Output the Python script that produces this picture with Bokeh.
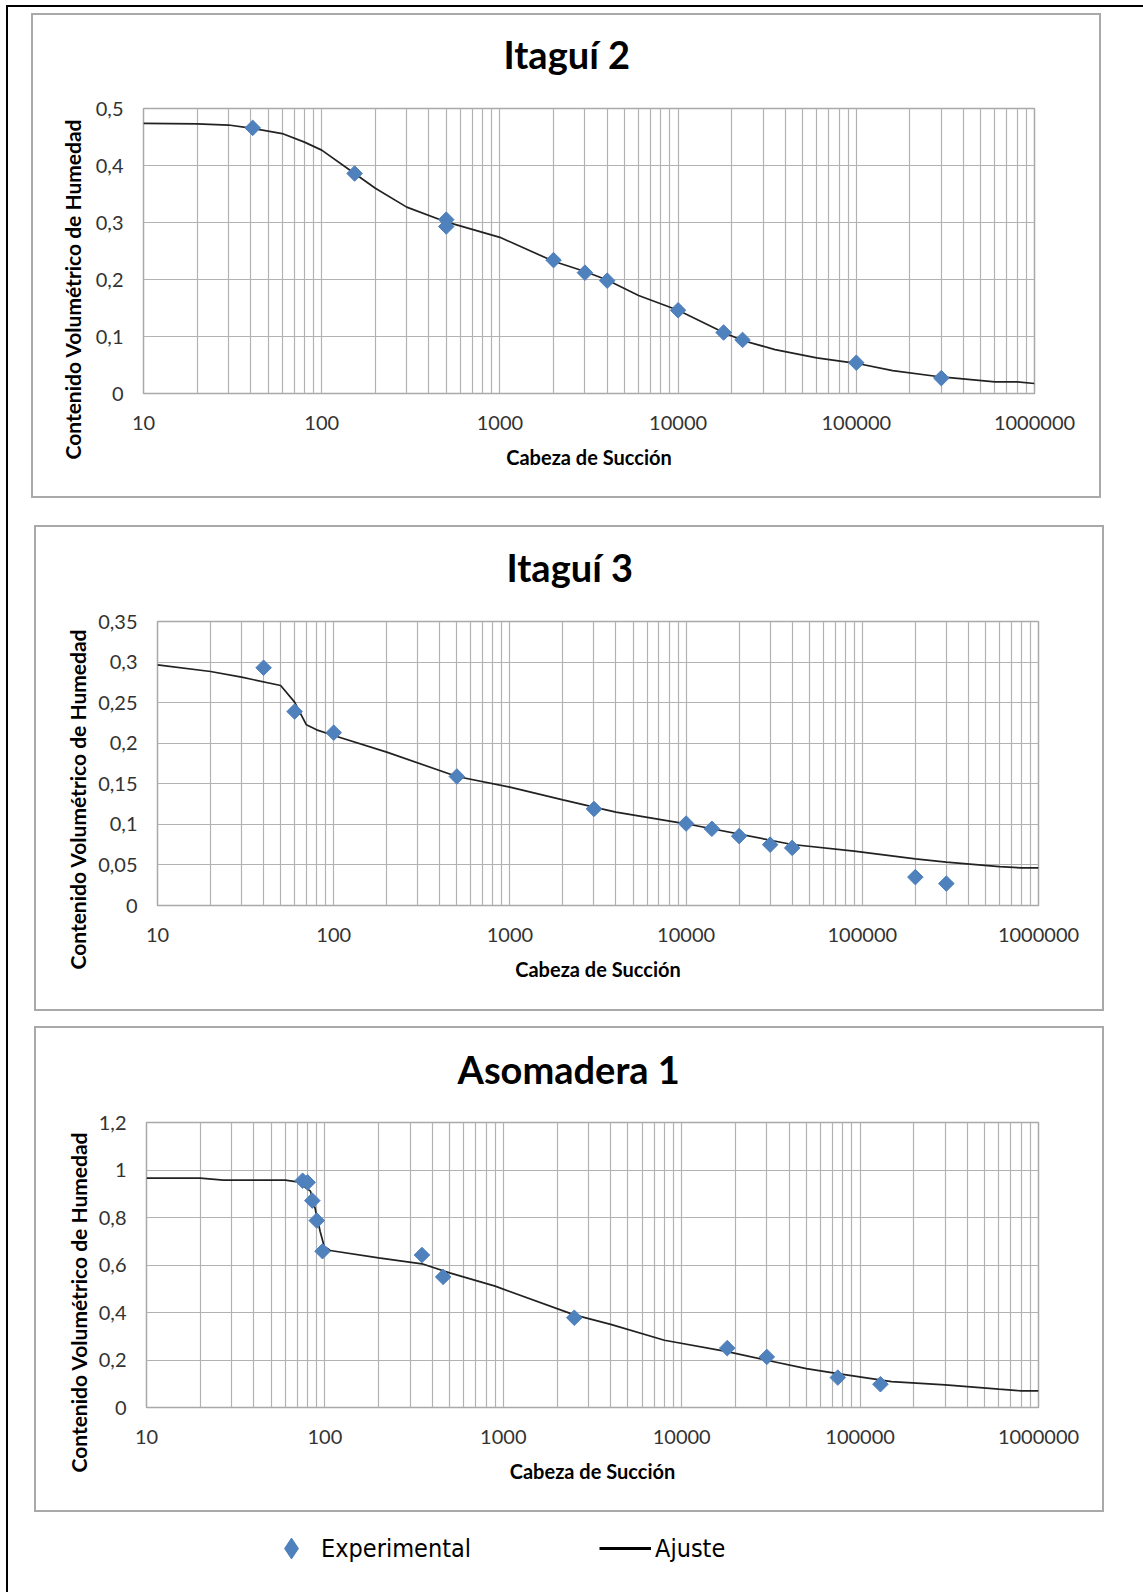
import numpy as np
from bokeh.plotting import figure
from bokeh.models import FixedTicker, Legend, LegendItem, Range1d, Spacer, Title
from bokeh.layouts import column, row
from bokeh.embed import file_html
from bokeh.resources import INLINE

# ---------------- data ----------------
titles = ["Itaguí 2", "Itaguí 3", "Asomadera 1"]
x_title = "Cabeza de Succión"
y_title = "Contenido Volumétrico de Humedad"

x_ticks = [10, 100, 1000, 10000, 100000, 1000000]
x_tick_labels = ["10", "100", "1000", "10000", "100000", "1000000"]

# Itaguí 2
x1_exp = [41, 153, 500, 500, 2000, 3000, 4000, 10000, 18000, 23000, 100000, 300000]
y1_exp = [0.466, 0.386, 0.305, 0.293, 0.234, 0.212, 0.198, 0.146, 0.107, 0.094, 0.054, 0.027]
x1_fit = [10, 20, 30, 41, 60, 80, 100, 153, 200, 300, 500, 1000, 2000, 3000, 4000,
          6000, 10000, 18000, 23000, 35000, 60000, 100000, 160000, 300000, 600000,
          800000, 1000000]
y1_fit = [0.474, 0.473, 0.471, 0.465, 0.456, 0.441, 0.427, 0.386, 0.360, 0.327, 0.301,
          0.274, 0.232, 0.214, 0.199, 0.172, 0.146, 0.107, 0.093, 0.077, 0.0625, 0.053,
          0.040, 0.029, 0.0204, 0.0204, 0.0175]
y1_ticks = [0, 0.1, 0.2, 0.3, 0.4, 0.5]
y1_tick_labels = ["0", "0,1", "0,2", "0,3", "0,4", "0,5"]

# Itaguí 3
x2_exp = [40, 60, 100, 500, 3000, 10000, 14000, 20000, 30000, 40000, 200000, 300000]
y2_exp = [0.293, 0.239, 0.213, 0.159, 0.119, 0.101, 0.0945, 0.0855, 0.075, 0.071, 0.035, 0.027]
x2_fit = [10, 20, 30, 50, 60, 70, 80, 100, 200, 500, 1000, 2000, 3000, 4000, 10000,
          40000, 90000, 200000, 300000, 600000, 800000, 1000000]
y2_fit = [0.2966, 0.2884, 0.2814, 0.2711, 0.2506, 0.2227, 0.2165, 0.2095, 0.189, 0.159,
          0.1458, 0.1302, 0.1212, 0.115, 0.1007, 0.0752, 0.067, 0.0575, 0.0534, 0.048,
          0.0464, 0.0464]
y2_ticks = [0, 0.05, 0.1, 0.15, 0.2, 0.25, 0.3, 0.35]
y2_tick_labels = ["0", "0,05", "0,1", "0,15", "0,2", "0,25", "0,3", "0,35"]

# Asomadera 1
x3_exp = [75, 80, 85, 90, 97, 350, 460, 2500, 18000, 30000, 75000, 130000]
y3_exp = [0.955, 0.948, 0.871, 0.787, 0.658, 0.642, 0.550, 0.378, 0.250, 0.213, 0.126, 0.098]
x3_fit = [10, 20, 27, 60, 70, 83, 88, 94, 99, 107, 200, 350, 500, 900, 2500, 4000, 8000,
          18000, 30000, 50000, 75000, 150000, 300000, 600000, 800000, 1000000]
y3_fit = [0.966, 0.966, 0.957, 0.957, 0.950, 0.911, 0.840, 0.742, 0.679, 0.661, 0.630,
          0.605, 0.567, 0.511, 0.390, 0.350, 0.283, 0.235, 0.199, 0.164, 0.143, 0.109,
          0.0954, 0.077, 0.070, 0.070]
y3_ticks = [0, 0.2, 0.4, 0.6, 0.8, 1.0, 1.2]
y3_tick_labels = ["0", "0,2", "0,4", "0,6", "0,8", "1", "1,2"]

legend_labels = ["Experimental", "Ajuste"]

# ---------------- styles ----------------
BLUE = "#4F81BD"
GRID = "#b2b2b2"
BOX = "#a9a9a9"
FONT = "Lato"
INNER_W = 1066

minor_ticks = [m * 10 ** d for d in range(1, 6) for m in range(2, 10)]


def gray(w, h):
    return Spacer(width=w, height=h, styles={"background-color": BOX})


def make_box(title, xe, ye, xf, yf, yticks, ylabels, ymax,
             left, fw, right, fh, bottom, top_gap, title_h, title_offset,
             ylab_offset, ylab_standoff):
    # title strip (its frame is aligned with the chart frame below it)
    tf = figure(width=INNER_W, height=title_h, output_backend="svg", toolbar_location=None,
                min_border=0, x_axis_location=None, y_axis_location=None,
                outline_line_color=None, title=title)
    tf.grid.visible = False
    tf.title.align = "left"
    tf.title.offset = title_offset
    tf.title.standoff = 0
    tf.title.text_font = FONT
    tf.title.text_font_style = "bold"
    tf.title.text_font_size = "38px"
    tf.title.text_color = "black"

    top = 23
    p = figure(width=left + fw + right, height=top + fh + bottom,
               x_axis_type="log", x_range=Range1d(10, 1e6), y_range=Range1d(0, ymax),
               output_backend="svg", toolbar_location=None,
               min_border_left=left, min_border_right=right,
               min_border_top=top, min_border_bottom=bottom,
               background_fill_color="white", border_fill_color="white")
    p.outline_line_color = BOX
    p.outline_line_width = 1.5

    p.xaxis.ticker = FixedTicker(ticks=x_ticks, minor_ticks=minor_ticks)
    p.xaxis.major_label_overrides = dict(zip(x_ticks, x_tick_labels))
    p.yaxis.ticker = FixedTicker(ticks=yticks)
    p.yaxis.major_label_overrides = dict(zip(yticks, ylabels))

    for ax in p.axis:
        ax.axis_line_color = None
        ax.major_tick_line_color = None
        ax.minor_tick_line_color = None
        ax.major_tick_out = 0
        ax.major_tick_in = 0
        ax.major_label_text_font = FONT
        ax.major_label_text_font_size = "20px"
        ax.major_label_text_color = "#333333"
    p.xaxis.major_label_standoff = 18
    p.yaxis.major_label_standoff = 20

    p.xaxis.axis_label = x_title
    p.xaxis.axis_label_text_font = FONT
    p.xaxis.axis_label_text_font_style = "bold"
    p.xaxis.axis_label_text_font_size = "20px"
    p.xaxis.axis_label_text_color = "black"
    p.xaxis.axis_label_standoff = 12

    yt = Title(text=y_title, align="left", offset=ylab_offset, standoff=ylab_standoff,
               text_font=FONT, text_font_style="bold", text_font_size="21px",
               text_color="black")
    p.add_layout(yt, "left")

    p.xgrid.grid_line_color = GRID
    p.xgrid.grid_line_width = 1.2
    p.xgrid.minor_grid_line_color = GRID
    p.xgrid.minor_grid_line_width = 1.2
    p.ygrid.grid_line_color = GRID
    p.ygrid.grid_line_width = 1.2
    p.ygrid.minor_grid_line_color = None

    p.line(xf, yf, line_color="#222222", line_width=1.7)
    p.scatter(xe, ye, marker="square", angle=np.pi / 4, size=11,
              fill_color=BLUE, line_color=BLUE)

    inner_h = top_gap + title_h + top + fh + bottom
    inner = column(gray(INNER_W, 2), Spacer(width=INNER_W, height=top_gap), tf, p,
                   gray(INNER_W, 2))
    return row(gray(2, inner_h + 4), inner, gray(2, inner_h + 4))


box1 = make_box(titles[0], x1_exp, y1_exp, x1_fit, y1_fit, y1_ticks, y1_tick_labels, 0.5,
                110, 891, 65, 285, 103, 13, 57, 360, -66, 15)
box2 = make_box(titles[1], x2_exp, y2_exp, x2_fit, y2_fit, y2_ticks, y2_tick_labels, 0.35,
                121, 881, 64, 284, 104, 14, 57, 349, -64, 11)
box3 = make_box(titles[2], x3_exp, y3_exp, x3_fit, y3_fit, y3_ticks, y3_tick_labels, 1.2,
                110, 892, 64, 285, 103, 15, 56, 311, -65, 10)

# legend strip
f4 = figure(width=1135, height=80, x_range=Range1d(0, 1), y_range=Range1d(0, 1),
            output_backend="svg", toolbar_location=None, min_border=0,
            x_axis_location=None, y_axis_location=None, outline_line_color=None)
f4.grid.visible = False
r_exp = f4.scatter(x=[-1], y=[-1], marker="diamond", fill_color=BLUE, line_color=BLUE)
r_fit = f4.line(x=[-2, -1], y=[-1, -1], line_color="black", line_width=3)
legend = Legend(items=[LegendItem(label=legend_labels[0], renderers=[r_exp]),
                       LegendItem(label=legend_labels[1], renderers=[r_fit])],
                orientation="horizontal", location=(257, 14),
                glyph_width=52, glyph_height=60, label_standoff=4, label_width=278,
                spacing=0, padding=0, margin=0, border_line_color=None,
                background_fill_alpha=0, label_text_font="DejaVu Sans Condensed",
                label_text_font_size="25px", label_text_color="black")
f4.add_layout(legend)

content = column(
    Spacer(width=10, height=6),
    row(Spacer(width=23, height=10), box1),
    Spacer(width=10, height=27),
    row(Spacer(width=26, height=10), box2),
    Spacer(width=10, height=15),
    row(Spacer(width=26, height=10), box3),
    f4,
)
root = column(
    Spacer(width=10, height=5),
    row(Spacer(width=6, height=10),
        column(Spacer(width=1137, height=2, styles={"background-color": "black"}),
               row(Spacer(width=2, height=1585, styles={"background-color": "black"}),
                   content))),
)

open("out.html", "w").write(file_html(root, INLINE))
